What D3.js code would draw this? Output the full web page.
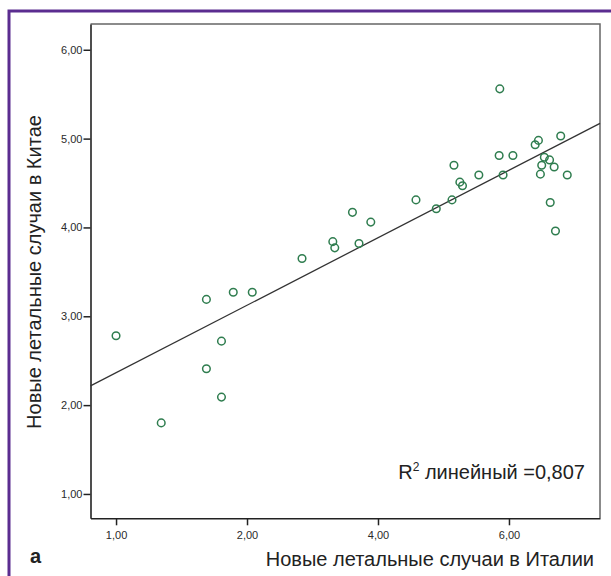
<!DOCTYPE html>
<html lang="ru">
<head>
  <meta charset="utf-8"/>
  <title>Новые летальные случаи: Италия и Китай</title>
  <script src="https://cdn.jsdelivr.net/npm/d3@7/dist/d3.min.js"></script>
  <style>
    html,body { margin:0; padding:0; background:#fff; overflow:hidden; }
    svg { display:block; font-family:"Liberation Sans", Arial, sans-serif; }
    .tick text { font-size:11px; fill:#2a2a2a; }
  </style>
</head>
<body>
  <svg width="611" height="576"></svg>

  <script>
  // данные
  const italy = [0.00, 1.38, 1.79, 2.08, 2.84, 1.61, 1.38, 1.61, 0.69,
                 5.86, 6.79, 6.45, 6.40, 5.85, 6.06, 6.54, 6.62, 6.50,
                 6.69, 5.16, 6.48, 6.89, 5.54, 5.91, 5.25, 5.29, 4.58,
                 5.13, 4.89, 6.63, 6.71, 3.61, 3.89, 3.31, 3.34, 3.71];
  const china = [2.78, 3.19, 3.27, 3.27, 3.65, 2.72, 2.41, 2.09, 1.80,
                 5.56, 5.03, 4.98, 4.93, 4.81, 4.81, 4.79, 4.76, 4.70,
                 4.68, 4.70, 4.60, 4.59, 4.59, 4.59, 4.51, 4.47, 4.31,
                 4.31, 4.21, 4.28, 3.96, 4.17, 4.06, 3.84, 3.77, 3.82];

  // линия регрессии: [пересечение, наклон]
  const fit = [2.364, 0.380];
  const r2Label = "0,807";

  const xTicks = [0, 2, 4, 6];
  const xTickLabels = ["1,00", "2,00", "4,00", "6,00"];
  const yTicks = [1, 2, 3, 4, 5, 6];
  const yTickLabels = ["1,00", "2,00", "3,00", "4,00", "5,00", "6,00"];

  const svg = d3.select("svg");

  // рамка журнала
  svg.append("rect")
    .attr("x", 9).attr("y", 11)
    .attr("width", 700).attr("height", 700)
    .attr("fill", "none")
    .attr("stroke", "#5b2d90")
    .attr("stroke-width", 3);

  const L = 90.5, R = 600, T = 24, B = 518.3;

  const x = d3.scaleLinear().domain([-0.39, 7.39]).range([L, R]);
  const y = d3.scaleLinear().domain([0.726, 6.29]).range([B, T]);

  // верх/право рамки графика
  svg.append("path")
    .attr("d", `M${L},${T}H${R}V${B}`)
    .attr("fill", "none")
    .attr("stroke", "#666")
    .attr("stroke-width", 1.5);

  // оси
  const xAxis = svg.append("g")
    .attr("transform", `translate(0,${B})`)
    .call(d3.axisBottom(x)
      .tickValues(xTicks)
      .tickFormat((d, i) => xTickLabels[i])
      .tickSize(7).tickSizeOuter(0).tickPadding(4));

  const yAxis = svg.append("g")
    .attr("transform", `translate(${L},0)`)
    .call(d3.axisLeft(y)
      .tickValues(yTicks)
      .tickFormat((d, i) => yTickLabels[i])
      .tickSize(7).tickSizeOuter(0).tickPadding(1));

  [xAxis, yAxis].forEach(g => {
    g.select(".domain").attr("stroke", "#222").attr("stroke-width", 1.6);
    g.selectAll(".tick line").attr("stroke", "#222").attr("stroke-width", 1.5);
  });
  xAxis.selectAll(".tick text").attr("dy", "0.9em");

  // линия регрессии
  const x0 = x.domain()[0], x1 = x.domain()[1];
  svg.append("line")
    .attr("x1", x(x0)).attr("y1", y(fit[0] + fit[1] * x0))
    .attr("x2", x(x1)).attr("y2", y(fit[0] + fit[1] * x1))
    .attr("stroke", "#333")
    .attr("stroke-width", 1.3);

  // точки
  svg.append("g")
    .selectAll("circle")
    .data(italy.map((v, i) => [v, china[i]]))
    .join("circle")
      .attr("cx", d => x(d[0]))
      .attr("cy", d => y(d[1]))
      .attr("r", 3.8)
      .attr("fill", "none")
      .attr("stroke", "#2f7d4f")
      .attr("stroke-width", 1.5);

  // R²
  const r2 = svg.append("text")
    .attr("x", 585).attr("y", 479)
    .attr("text-anchor", "end")
    .attr("font-size", 20)
    .attr("fill", "#222");
  r2.append("tspan").text("R");
  r2.append("tspan").attr("font-size", 12).attr("dy", -8).text("2");
  r2.append("tspan").attr("dy", 8).text(" линейный =" + r2Label);

  // подписи осей
  svg.append("text")
    .attr("x", 594).attr("y", 566)
    .attr("text-anchor", "end")
    .attr("font-size", 20)
    .attr("fill", "#222")
    .text("Новые летальные случаи в Италии");

  svg.append("text")
    .attr("transform", "translate(41,272) rotate(-90)")
    .attr("text-anchor", "middle")
    .attr("font-size", 20)
    .attr("fill", "#222")
    .text("Новые летальные случаи в Китае");

  svg.append("text")
    .attr("x", 30).attr("y", 563)
    .attr("font-size", 20)
    .attr("font-weight", "bold")
    .attr("fill", "#222")
    .text("a");
  </script>
</body>
</html>
